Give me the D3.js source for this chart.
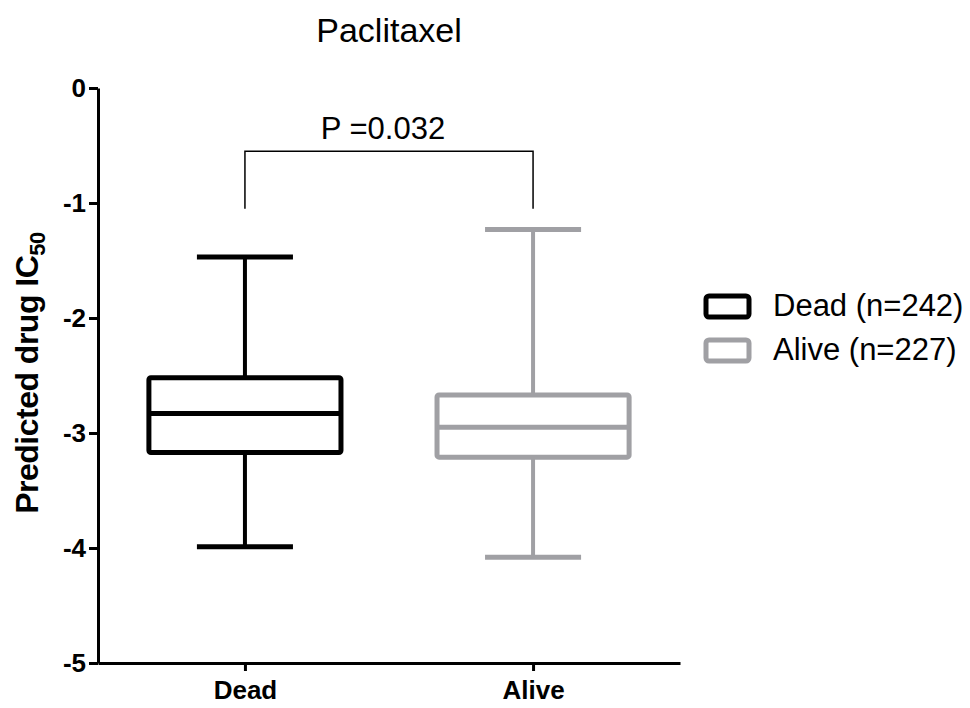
<!DOCTYPE html>
<html>
<head>
<meta charset="utf-8">
<script src="https://cdn.jsdelivr.net/npm/d3@7"></script>
<style>
  body { margin: 0; background: #fff; }
  text { font-family: "Liberation Sans", Arial, sans-serif; }
</style>
</head>
<body>
<div id="box_chart"></div>
<script>
/* Box plot: predicted Paclitaxel IC50, dead vs alive */

const groups = ["Dead", "Alive"];
const legendLabels = ["Dead (n=242)", "Alive (n=227)"];
const colors = ["#000000", "#a0a0a4"];
// five number summaries
const whiskerLow = [-3.99, -4.08];
const q1 = [-3.17, -3.21];
const median = [-2.83, -2.95];
const q3 = [-2.52, -2.67];
const whiskerHigh = [-1.47, -1.23];
const yTicks = [0, -1, -2, -3, -4, -5];
const pText = "P =0.032";
const bracketY = -0.55, bracketDrop = -1.05;

const width = 970,
      height = 708,
      margin = ({ top: 88, right: 290, bottom: 45, left: 98 });

let svg = d3.select("#box_chart")
    .append("svg")
    .attr("width", width)
    .attr("height", height);

let x = d3.scalePoint()
    .domain(groups)
    .range([margin.left, 680])
    .padding(0.51);

let y = d3.scaleLinear()
    .domain([-5, 0])
    .range([height - margin.bottom, margin.top]);

const boxHalf = x.step() / 3,
      capHalf = x.step() / 6;

// y axis
let yAxis = svg.append("g")
    .attr("transform", `translate(${margin.left},0)`)
    .call(d3.axisLeft(y).tickValues(yTicks).tickFormat(d3.format("d")).tickSize(9).tickSizeOuter(0));
yAxis.select(".domain").attr("stroke-width", 3);
yAxis.selectAll(".tick line").attr("stroke-width", 3);
yAxis.selectAll(".tick text")
    .attr("x", -12)
    .style("font-size", "26px")
    .style("font-weight", "bold")
    .text(d => d === 0 ? "0" : "-" + Math.abs(d));

// x axis
let xAxis = svg.append("g")
    .attr("transform", `translate(0,${y(-5)})`)
    .call(d3.axisBottom(x).tickSize(8).tickSizeOuter(0));
xAxis.select(".domain").attr("stroke-width", 3);
xAxis.selectAll(".tick line").attr("stroke-width", 3);
xAxis.selectAll(".tick text")
    .attr("y", 18)
    .style("font-size", "26px")
    .style("font-weight", "bold");

// boxes
let box = svg.selectAll(".box")
    .data(groups)
    .join("g")
    .attr("class", "box")
    .attr("stroke", (d, i) => colors[i])
    .attr("fill", "none");

box.append("line") // upper whisker
    .attr("x1", d => x(d)).attr("x2", d => x(d))
    .attr("y1", (d, i) => y(whiskerHigh[i])).attr("y2", (d, i) => y(q3[i]))
    .attr("stroke-width", 4);
box.append("line") // lower whisker
    .attr("x1", d => x(d)).attr("x2", d => x(d))
    .attr("y1", (d, i) => y(q1[i])).attr("y2", (d, i) => y(whiskerLow[i]))
    .attr("stroke-width", 4);
box.append("line") // top cap
    .attr("x1", d => x(d) - capHalf).attr("x2", d => x(d) + capHalf)
    .attr("y1", (d, i) => y(whiskerHigh[i])).attr("y2", (d, i) => y(whiskerHigh[i]))
    .attr("stroke-width", 5);
box.append("line") // bottom cap
    .attr("x1", d => x(d) - capHalf).attr("x2", d => x(d) + capHalf)
    .attr("y1", (d, i) => y(whiskerLow[i])).attr("y2", (d, i) => y(whiskerLow[i]))
    .attr("stroke-width", 5);
box.append("rect")
    .attr("x", d => x(d) - boxHalf)
    .attr("width", boxHalf * 2)
    .attr("y", (d, i) => y(q3[i]))
    .attr("height", (d, i) => y(q1[i]) - y(q3[i]))
    .attr("rx", 2)
    .attr("stroke-width", 5);
box.append("line") // median
    .attr("x1", d => x(d) - boxHalf).attr("x2", d => x(d) + boxHalf)
    .attr("y1", (d, i) => y(median[i])).attr("y2", (d, i) => y(median[i]))
    .attr("stroke-width", 5);

// significance bracket
svg.append("path")
    .attr("d", `M${x(groups[0])},${y(bracketDrop)}V${y(bracketY)}H${x(groups[1])}V${y(bracketDrop)}`)
    .attr("fill", "none")
    .attr("stroke", "#000")
    .attr("stroke-width", 1.5);

svg.append("text")
    .attr("x", (x(groups[0]) + x(groups[1])) / 2 - 6)
    .attr("y", y(bracketY) - 12)
    .attr("text-anchor", "middle")
    .style("font-size", "31px")
    .text(pText);

// title
svg.append("text")
    .attr("x", 389)
    .attr("y", 42)
    .attr("text-anchor", "middle")
    .style("font-size", "34px")
    .text("Paclitaxel");

// y-axis name
let yLab = svg.append("text")
    .attr("transform", `translate(38,373) rotate(-90)`)
    .attr("text-anchor", "middle")
    .style("font-size", "32px")
    .style("font-weight", "bold")
    .style("letter-spacing", "-0.5px");
yLab.append("tspan").text("Predicted drug IC");
yLab.append("tspan").attr("dy", 7).style("font-size", "22px").text("50");

// legend
let legend = svg.selectAll(".legend")
    .data(legendLabels)
    .join("g")
    .attr("class", "legend")
    .attr("transform", (d, i) => `translate(706,${296 + i * 44})`);

legend.append("rect")
    .attr("width", 43)
    .attr("height", 21)
    .attr("rx", 3)
    .attr("fill", "none")
    .attr("stroke", (d, i) => colors[i])
    .attr("stroke-width", 5);

legend.append("text")
    .attr("x", 67)
    .attr("y", 20)
    .style("font-size", "31px")
    .text(d => d);
</script>
</body>
</html>
